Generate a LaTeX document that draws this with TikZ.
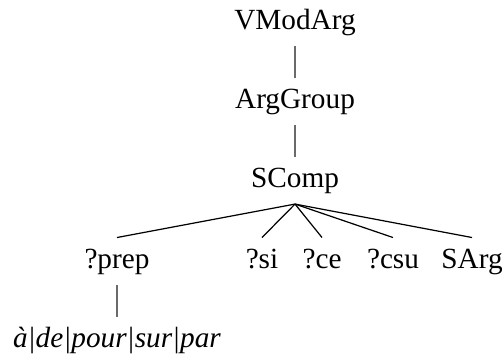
\documentclass[tikz,border=0pt]{standalone}
\usepackage{fontspec}
\setmainfont{Liberation Serif}
\definecolor{fanline}{HTML}{000000}
\definecolor{unaryline}{HTML}{6A6A6A}

\begin{document}
\begin{tikzpicture}[x=0.41pt,y=-0.41pt,font=\fontsize{12}{14}\selectfont,
  cat/.style={inner sep=0pt,text height=12.3pt,text depth=6.8pt,anchor=base}]
\useasboundingbox (0,0) rectangle (502,354);
\node[cat] (vmod) at (295,29) {VModArg};
\node[cat] (arggrp) at (295,108) {ArgGroup};
\node[cat] (scomp) at (295,187) {SComp};
\node[cat] (prep) at (117,268) {?prep};
\node[cat] (si) at (262,268) {?si};
\node[cat] (ce) at (322,268) {?ce};
\node[cat] (csu) at (393,268) {?csu};
\node[cat] (sarg) at (472,268) {SArg};
\node[cat] (lex) at (117,347) {\textit{à|de|pour|sur|par}};
\draw[unaryline,line width=.45pt] (vmod.south)--(arggrp.north);
\draw[unaryline,line width=.45pt] (arggrp.south)--(scomp.north);
\draw[unaryline,line width=.45pt] (prep.south)--(lex.north);
\draw[fanline,line width=.5pt] (scomp.south)--(prep.north);
\draw[fanline,line width=.5pt] (scomp.south)--(si.north);
\draw[fanline,line width=.5pt] (scomp.south)--(ce.north);
\draw[fanline,line width=.5pt] (scomp.south)--(csu.north);
\draw[fanline,line width=.5pt] (scomp.south)--(sarg.north);
\end{tikzpicture}
\end{document}
